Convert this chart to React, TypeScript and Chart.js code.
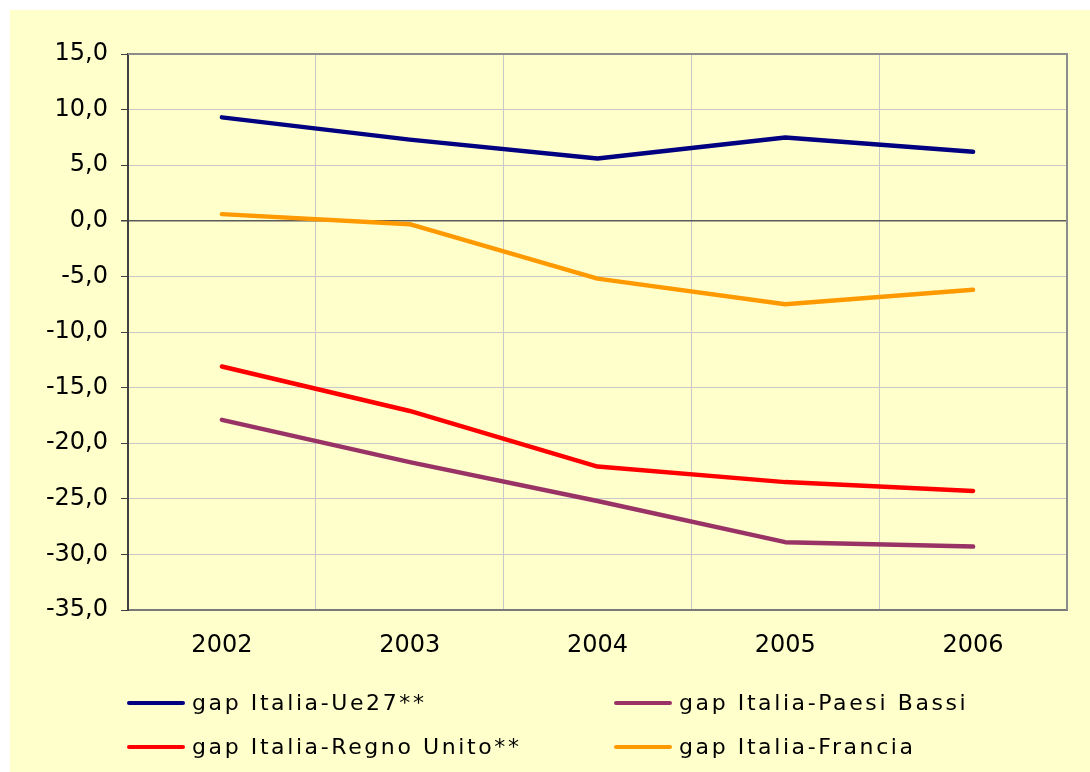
import React, { useEffect, useRef } from "react";
import { Chart, registerables } from "chart.js";

Chart.register(...registerables);

const years = ["2002", "2003", "2004", "2005", "2006"];
const ue27 = [9.3, 7.3, 5.6, 7.5, 6.2];
const paesiBassi = [-17.9, -21.7, -25.2, -28.9, -29.3];
const regnoUnito = [-13.1, -17.1, -22.1, -23.5, -24.3];
const francia = [0.6, -0.3, -5.2, -7.5, -6.2];

const seriesLabels = [
  "gap Italia-Ue27**",
  "gap Italia-Paesi Bassi",
  "gap Italia-Regno Unito**",
  "gap Italia-Francia",
];
const seriesColors = ["#000080", "#993366", "#FF0000", "#FF9900"];
const seriesData = [ue27, paesiBassi, regnoUnito, francia];

const yMin = -35;
const yMax = 15;
const yStep = 5;

const FONT = "'DejaVu Sans', Verdana, sans-serif";

const borderPlugin = {
  id: "plotBorder",
  afterDraw(chart: any) {
    const { ctx, chartArea } = chart;
    ctx.save();
    ctx.strokeStyle = "#8C8C8C";
    ctx.lineWidth = 2;
    ctx.beginPath();
    ctx.moveTo(chartArea.left, chartArea.top);
    ctx.lineTo(chartArea.right, chartArea.top);
    ctx.lineTo(chartArea.right, chartArea.bottom);
    ctx.stroke();
    ctx.restore();
  },
};

export default function App() {
  const canvasRef = useRef<HTMLCanvasElement | null>(null);

  useEffect(() => {
    if (!canvasRef.current) return;
    const chart = new Chart(canvasRef.current, {
      type: "line",
      data: {
        labels: years,
        datasets: seriesData.map((d, i) => ({
          label: seriesLabels[i],
          data: d,
          borderColor: seriesColors[i],
          backgroundColor: seriesColors[i],
          borderWidth: 4.5,
          pointRadius: 0,
          borderCapStyle: "round" as const,
          borderJoinStyle: "round" as const,
          tension: 0,
        })),
      },
      options: {
        animation: false,
        responsive: false,
        maintainAspectRatio: false,
        layout: { padding: { top: 44, right: 23, left: 0, bottom: 102 } },
        plugins: {
          legend: { display: false },
          tooltip: { enabled: false },
        },
        scales: {
          x: {
            offset: true,
            grid: {
              offset: true,
              color: "#C8C8C8",
              lineWidth: 1,
              drawTicks: false,
            },
            border: { color: "#7A7A7A", width: 2 },
            ticks: {
              color: "#000",
              font: { family: FONT, size: 24 },
              padding: 21,
            },
            afterFit(scale: any) {
              scale.height = 60;
            },
          },
          y: {
            min: yMin,
            max: yMax,
            ticks: {
              stepSize: yStep,
              color: "#000",
              font: { family: FONT, size: 24 },
              padding: 13,
              callback: (v: any) => Number(v).toFixed(1).replace(".", ","),
            },
            grid: {
              color: (ctx: any) =>
                ctx.tick && ctx.tick.value === 0 ? "#5A5A5A" : "#C8C8C8",
              lineWidth: (ctx: any) => (ctx.tick && ctx.tick.value === 0 ? 1.5 : 1),
              tickColor: "#404040",
              tickLength: 7,
            },
            border: { color: "#404040", width: 2 },
            afterFit(scale: any) {
              scale.width = 118;
            },
          },
        },
      },
      plugins: [borderPlugin],
    });
    return () => chart.destroy();
  }, []);

  const legendItems = [0, 1, 2, 3].map((i) => {
    const col = i % 2;
    const row = Math.floor(i / 2);
    return (
      <div
        key={i}
        style={{
          position: "absolute",
          left: col === 0 ? 117 : 604,
          top: row === 0 ? 680 : 724,
          height: 26,
          display: "flex",
          alignItems: "center",
          whiteSpace: "nowrap",
        }}
      >
        <div
          style={{
            width: 58,
            height: 4,
            borderRadius: 2,
            background: seriesColors[i],
            marginRight: 7,
          }}
        />
        <span
          style={{
            fontFamily: FONT,
            fontSize: 22,
            letterSpacing: "2.6px",
            color: "#000",
            lineHeight: "26px",
          }}
        >
          {seriesLabels[i]}
        </span>
      </div>
    );
  });

  return (
    <div
      style={{
        position: "fixed",
        left: 10,
        top: 10,
        width: 1080,
        height: 762,
        background: "#FFFFCC",
      }}
    >
      <canvas ref={canvasRef} width={1080} height={762} style={{ display: "block" }} />
      {legendItems}
    </div>
  );
}
